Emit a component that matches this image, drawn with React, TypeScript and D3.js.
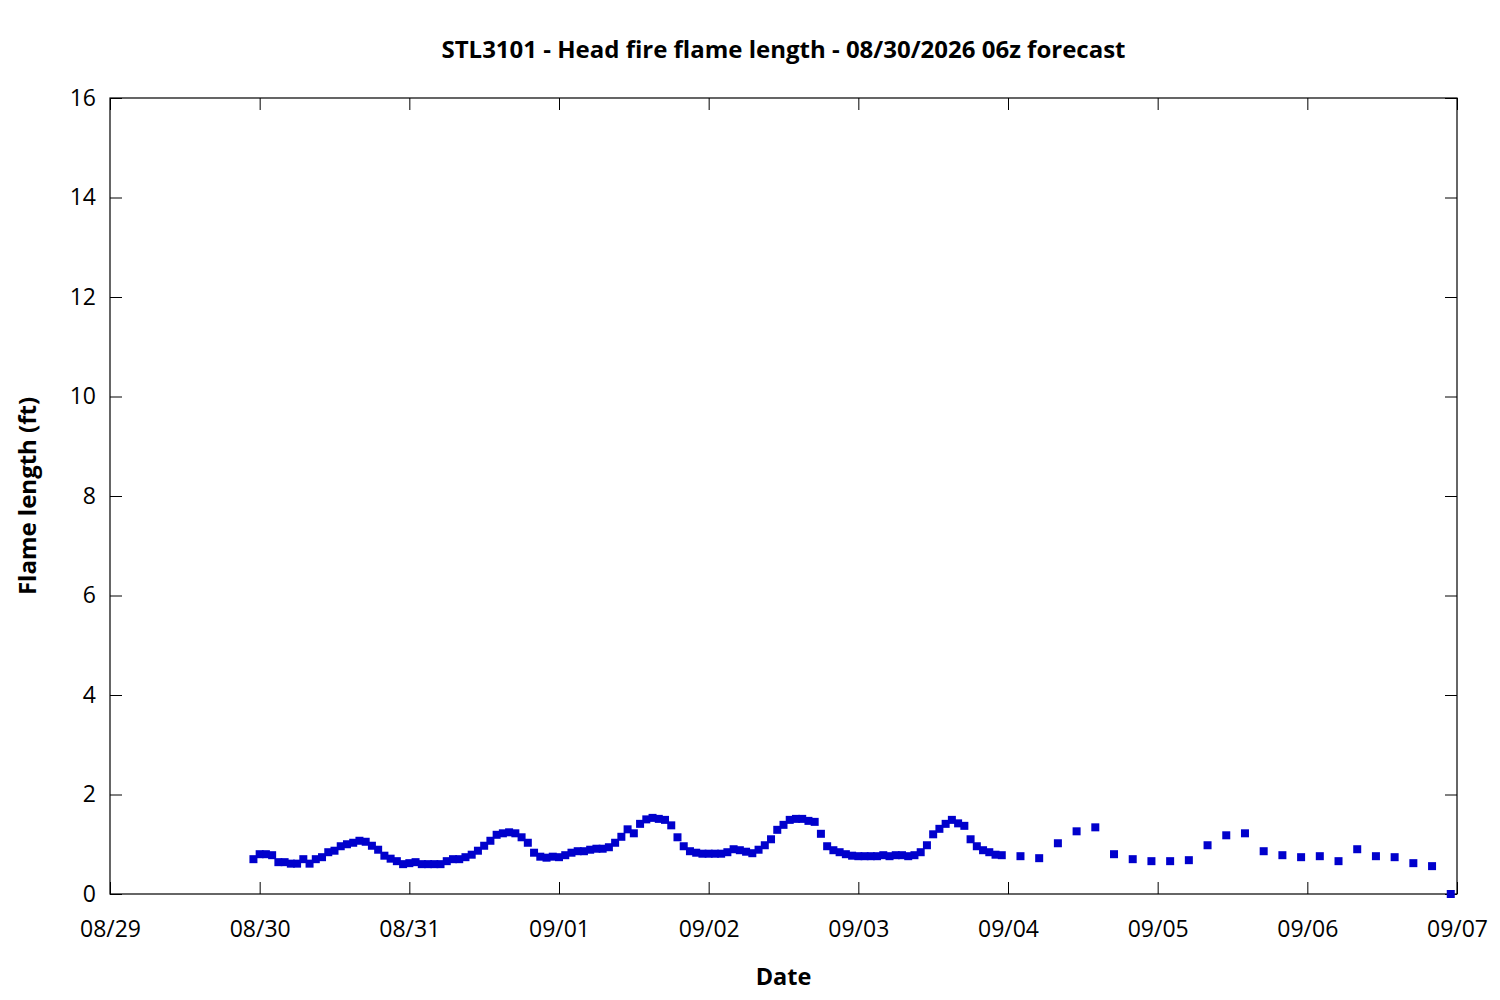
import React, { useEffect, useRef } from 'react';
import * as d3 from 'd3';

// Hourly forecast, starting 08/29 23:00 UTC
const hourlyStart = Date.UTC(2026, 7, 29, 23);
const hourlyValues = [
  0.70,
  // 08/30 00-23
  0.80, 0.80, 0.78, 0.64, 0.64, 0.61, 0.61, 0.70, 0.61, 0.70, 0.74, 0.84,
  0.87, 0.96, 1.00, 1.03, 1.07, 1.05, 0.97, 0.89, 0.77, 0.71, 0.66, 0.60,
  // 08/31
  0.62, 0.64, 0.60, 0.60, 0.60, 0.60, 0.66, 0.70, 0.70, 0.74, 0.79, 0.87,
  0.97, 1.07, 1.19, 1.22, 1.24, 1.22, 1.14, 1.03, 0.83, 0.75, 0.73, 0.75,
  // 09/01
  0.74, 0.78, 0.83, 0.86, 0.86, 0.89, 0.91, 0.91, 0.94, 1.03, 1.15, 1.30,
  1.22, 1.41, 1.50, 1.53, 1.51, 1.49, 1.38, 1.14, 0.96, 0.86, 0.83, 0.81,
  // 09/02
  0.81, 0.81, 0.81, 0.84, 0.90, 0.88, 0.85, 0.82, 0.89, 0.98, 1.10, 1.29,
  1.39, 1.49, 1.51, 1.51, 1.47, 1.45, 1.21, 0.96, 0.88, 0.84, 0.80, 0.77,
  // 09/03
  0.76, 0.76, 0.76, 0.76, 0.78, 0.76, 0.78, 0.78, 0.76, 0.78, 0.84, 0.98,
  1.20, 1.31, 1.41, 1.49, 1.42, 1.37, 1.10, 0.96, 0.88, 0.84, 0.79, 0.78,
];

// 3-hourly forecast, starting 09/04 02:00 UTC
const threeHourlyStart = Date.UTC(2026, 8, 4, 2);
const threeHourlyValues = [
  0.76, 0.72, 1.02, 1.26, 1.34, 0.80, 0.70, 0.66,
  0.66, 0.68, 0.98, 1.18, 1.22, 0.86, 0.78, 0.74,
  0.76, 0.66, 0.90, 0.76, 0.74, 0.62, 0.56, 0.00,
];

const yTicks = [0, 2, 4, 6, 8, 10, 12, 14, 16];
const HOUR = 3600 * 1000;

const App: React.FC = () => {
  const svgRef = useRef<SVGSVGElement>(null);

  useEffect(() => {
    const width = 1500;
    const height = 1000;
    const margin = { top: 98, right: 43, bottom: 106, left: 110 };
    const font = '"Open Sans", "Noto Sans", sans-serif';

    const root = d3.select(svgRef.current);
    root.selectAll('*').remove();
    root.attr('width', width).attr('height', height).style('background', '#fff');

    const iw = width - margin.left - margin.right;
    const ih = height - margin.top - margin.bottom;

    const points = [
      ...hourlyValues.map((v, i) => ({ t: new Date(hourlyStart + i * HOUR), v })),
      ...threeHourlyValues.map((v, i) => ({ t: new Date(threeHourlyStart + i * 3 * HOUR), v })),
    ];

    const x = d3.scaleUtc()
      .domain([new Date(Date.UTC(2026, 7, 29)), new Date(Date.UTC(2026, 8, 7))])
      .range([0, iw]);
    const y = d3.scaleLinear().domain([0, 16]).range([ih, 0]);

    const g = root.append('g').attr('transform', `translate(${margin.left},${margin.top})`);

    const tickLen = 12;
    const xTicks = x.ticks(d3.utcDay.every(1)!);

    // Y axis (left) with inward ticks
    const yAxis = g.append('g').call(d3.axisLeft(y).tickValues(yTicks).tickSize(-tickLen).tickPadding(14));
    yAxis.select('.domain').remove();
    yAxis.selectAll('text').style('font-family', font).style('font-size', '23px').attr('fill', '#000');
    yAxis.selectAll('line').attr('stroke', '#000');

    // Right mirrored ticks
    const yRight = g.append('g').attr('transform', `translate(${iw},0)`)
      .call(d3.axisRight(y).tickValues(yTicks).tickSize(-tickLen).tickFormat(() => ''));
    yRight.select('.domain').remove();
    yRight.selectAll('line').attr('stroke', '#000');

    // X axis (bottom)
    const xAxis = g.append('g').attr('transform', `translate(0,${ih})`)
      .call(d3.axisBottom(x).tickValues(xTicks).tickSize(-tickLen).tickPadding(27)
        .tickFormat(d => d3.utcFormat('%m/%d')(d as Date)));
    xAxis.select('.domain').remove();
    xAxis.selectAll('text').style('font-family', font).style('font-size', '23px').attr('fill', '#000');
    xAxis.selectAll('line').attr('stroke', '#000');

    // Top mirrored ticks
    const xTop = g.append('g')
      .call(d3.axisTop(x).tickValues(xTicks).tickSize(-tickLen).tickFormat(() => ''));
    xTop.select('.domain').remove();
    xTop.selectAll('line').attr('stroke', '#000');

    // Frame
    g.append('rect')
      .attr('width', iw).attr('height', ih)
      .attr('fill', 'none').attr('stroke', '#000').attr('stroke-width', 1.2);

    // Points
    const s = 8;
    g.append('g').selectAll('rect')
      .data(points)
      .enter()
      .append('rect')
      .attr('x', d => x(d.t) - s / 2)
      .attr('y', d => y(d.v) - s / 2)
      .attr('width', s)
      .attr('height', s)
      .attr('fill', '#0000cc');

    // Title
    root.append('text')
      .attr('x', margin.left + iw / 2)
      .attr('y', 58)
      .attr('text-anchor', 'middle')
      .style('font-family', font).style('font-size', '24px').style('font-weight', 'bold')
      .text('STL3101 - Head fire flame length - 08/30/2026 06z forecast');

    // Axis labels
    root.append('text')
      .attr('x', margin.left + iw / 2)
      .attr('y', 985)
      .attr('text-anchor', 'middle')
      .style('font-family', font).style('font-size', '23.5px').style('font-weight', 'bold')
      .text('Date');

    root.append('text')
      .attr('transform', `translate(36,${margin.top + ih / 2}) rotate(-90)`)
      .attr('text-anchor', 'middle')
      .style('font-family', font).style('font-size', '24px').style('font-weight', 'bold')
      .text('Flame length (ft)');
  }, []);

  return <svg ref={svgRef} style={{ display: 'block', margin: '-8px' }}></svg>;
};

export default App;
